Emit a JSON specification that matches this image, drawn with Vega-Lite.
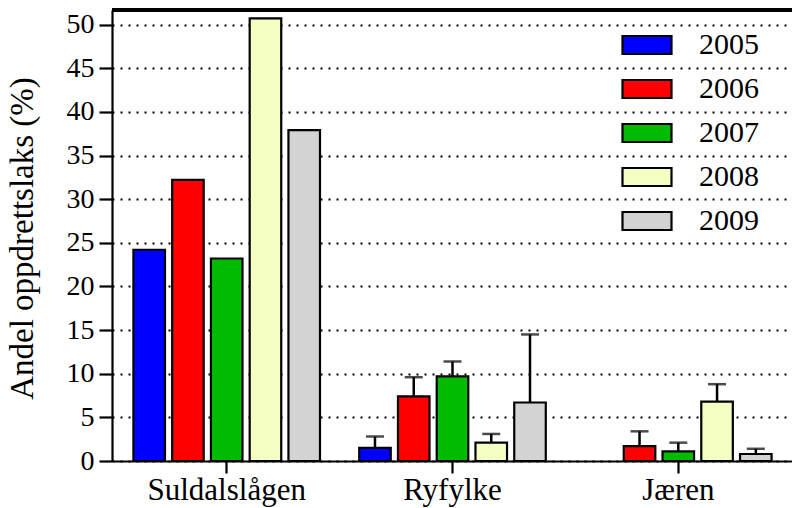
{
  "$schema": "https://vega.github.io/schema/vega-lite/v6.json",
  "autosize": {"type": "none"},
  "width": 681,
  "height": 451,
  "padding": {"left": 112, "top": 10, "right": 0, "bottom": 47},
  "config": {
    "view": {"stroke": null},
    "font": "Liberation Serif",
    "axis": {
      "domainColor": "black",
      "domainWidth": 2.2,
      "tickColor": "black",
      "tickWidth": 2.2,
      "labelColor": "black",
      "titleColor": "black",
      "labelFont": "Liberation Serif",
      "titleFont": "Liberation Serif",
      "titleFontWeight": "normal"
    },
    "legend": {"labelFont": "Liberation Serif"}
  },
  "resolve": {"axis": {"x": "independent"}},
  "data": {
    "values": [
      {"region": "Suldalslågen", "year": "2005", "value": 24.2, "upper": null},
      {"region": "Suldalslågen", "year": "2006", "value": 32.2, "upper": null},
      {"region": "Suldalslågen", "year": "2007", "value": 23.2, "upper": null},
      {"region": "Suldalslågen", "year": "2008", "value": 50.7, "upper": null},
      {"region": "Suldalslågen", "year": "2009", "value": 37.9, "upper": null},
      {"region": "Ryfylke", "year": "2005", "value": 1.5, "upper": 2.8},
      {"region": "Ryfylke", "year": "2006", "value": 7.4, "upper": 9.6},
      {"region": "Ryfylke", "year": "2007", "value": 9.7, "upper": 11.4},
      {"region": "Ryfylke", "year": "2008", "value": 2.1, "upper": 3.1},
      {"region": "Ryfylke", "year": "2009", "value": 6.7, "upper": 14.5},
      {"region": "Jæren", "year": "2006", "value": 1.7, "upper": 3.4},
      {"region": "Jæren", "year": "2007", "value": 1.1, "upper": 2.1},
      {"region": "Jæren", "year": "2008", "value": 6.8, "upper": 8.8},
      {"region": "Jæren", "year": "2009", "value": 0.8, "upper": 1.4}
    ]
  },
  "layer": [
    {
      "mark": {"type": "bar", "stroke": "black", "strokeWidth": 2.2},
      "encoding": {
        "x": {
          "field": "region",
          "type": "nominal",
          "sort": ["Suldalslågen", "Ryfylke", "Jæren"],
          "scale": {"paddingInner": 0, "paddingOuter": 0.008},
          "axis": {
            "title": null,
            "labelAngle": 0,
            "labelFontSize": 31,
            "tickSize": 12,
            "labelPadding": 2
          }
        },
        "xOffset": {
          "field": "year",
          "type": "nominal",
          "scale": {
            "domain": ["2005", "2006", "2007", "2008", "2009"],
            "paddingInner": 0.186,
            "paddingOuter": 0.506
          }
        },
        "y": {
          "field": "value",
          "type": "quantitative",
          "scale": {"domain": [0, 51.67], "nice": false},
          "axis": {
            "title": "Andel oppdrettslaks (%)",
            "titleFontSize": 33,
            "titlePadding": 27,
            "titleY": 228,
            "labelFontSize": 28,
            "labelPadding": 5,
            "tickSize": 13,
            "values": [0, 5, 10, 15, 20, 25, 30, 35, 40, 45, 50],
            "grid": true,
            "gridColor": "black",
            "gridDash": [2, 6],
            "gridWidth": 2,
            "gridOpacity": 1
          }
        },
        "color": {
          "field": "year",
          "type": "nominal",
          "scale": {
            "domain": ["2005", "2006", "2007", "2008", "2009"],
            "range": ["#0000ff", "#ff0000", "#00bb00", "#f5ffc2", "#d3d3d3"]
          },
          "legend": {
            "title": null,
            "orient": "none",
            "legendX": 509,
            "legendY": 9,
            "padding": 0,
            "symbolType": "M-1,-0.367H1V0.367H-1Z",
            "symbolSize": 2401,
            "symbolStrokeColor": "black",
            "symbolStrokeWidth": 2.2,
            "symbolOpacity": 1,
            "labelFontSize": 30,
            "labelColor": "black",
            "labelOffset": 26,
            "rowPadding": 3
          }
        }
      }
    },
    {
      "transform": [{"filter": "isValid(datum.upper)"}],
      "mark": {"type": "rule", "color": "black", "strokeWidth": 2.5},
      "encoding": {
        "x": {
          "field": "region",
          "type": "nominal",
          "sort": ["Suldalslågen", "Ryfylke", "Jæren"],
          "axis": {
            "orient": "top",
            "title": null,
            "labels": false,
            "ticks": false,
            "domain": true,
            "domainWidth": 2.5
          }
        },
        "xOffset": {"field": "year", "type": "nominal"},
        "y": {"field": "value", "type": "quantitative"},
        "y2": {"field": "upper"}
      }
    },
    {
      "transform": [{"filter": "isValid(datum.upper)"}],
      "mark": {"type": "tick", "color": "black", "thickness": 2.5, "size": 18, "orient": "horizontal"},
      "encoding": {
        "x": {"field": "region", "type": "nominal", "sort": ["Suldalslågen", "Ryfylke", "Jæren"], "axis": null},
        "xOffset": {"field": "year", "type": "nominal"},
        "y": {"field": "upper", "type": "quantitative"}
      }
    },
    {
      "mark": {"type": "rule", "color": "black", "strokeWidth": 2.5},
      "encoding": {"y": {"datum": 51.67}}
    }
  ]
}
